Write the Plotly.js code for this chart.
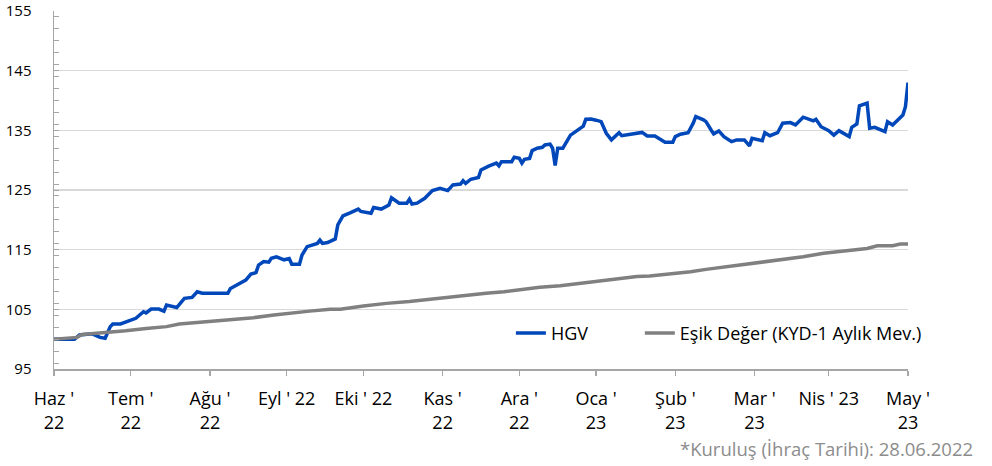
<!DOCTYPE html>
<html>
<head>
<meta charset="utf-8">
<script src="https://cdn.plot.ly/plotly-3.0.1.min.js"></script>
<style>html,body{margin:0;padding:0;background:#fff;}#chart{width:992px;height:466px;}</style>
</head>
<body>
<div id="chart"></div>
<script>
// Days since launch date (28.06.2022) and index values
const startDate = [2022, 5, 28];
const hgvDays = [0,8,10,15,18,20,22,23,26,30,32,35,36,38,41,43,44,48,51,54,56,58,68,69,73,75,77,79,80,82,84,85,87,90,92,93,96,97,99,103,104,105,107,110,111,113,116,119,120,124,125,128,131,132,135,138,139,140,142,145,148,151,154,156,159,160,161,163,166,167,170,173,174,175,179,180,182,183,184,186,187,189,191,192,194,195,196,197,199,200,202,203,205,207,208,210,212,214,216,218,221,222,230,232,235,239,242,243,245,248,250,251,254,255,257,258,260,262,265,267,270,272,273,277,278,280,283,285,288,290,293,297,298,300,303,305,307,311,312,314,315,318,319,321,325,326,328,330,332,333,334];
const hgvValues = [100.0,100.0,100.7,100.9,100.3,100.15,102.1,102.55,102.55,103.2,103.5,104.6,104.4,105.05,105.05,104.7,105.7,105.3,106.85,107.0,107.95,107.7,107.7,108.5,109.5,109.9,110.9,111.15,112.4,113.0,112.9,113.55,113.8,113.3,113.5,112.55,112.55,114.1,115.5,116.05,116.6,116.05,116.2,116.8,119.15,120.65,121.2,121.8,121.4,121.1,122.05,121.8,122.5,123.7,122.8,122.8,123.45,122.65,122.8,123.6,124.9,125.3,124.9,125.85,126.0,126.55,126.1,126.8,127.1,128.35,129.0,129.5,129.05,129.75,129.75,130.5,130.3,129.5,130.15,130.3,131.6,132.0,132.15,132.55,132.7,132.0,129.1,132.0,132.0,132.8,134.2,134.5,135.05,135.7,136.85,136.9,136.7,136.45,134.5,133.4,134.6,134.1,134.65,134.05,134.05,133.0,133.0,133.95,134.35,134.6,136.2,137.3,136.75,136.45,135.05,134.4,134.9,133.95,133.1,133.4,133.4,132.4,133.65,133.25,134.6,134.1,134.6,136.2,136.3,135.9,137.2,136.6,136.85,135.6,134.95,134.2,134.95,133.95,135.5,136.05,139.1,139.55,135.35,135.5,134.8,136.45,135.9,136.7,137.55,138.95,143.0];
const esikDays = [0,9,11,22,28,36,44,49,57,64,70,78,86,92,100,108,112,121,130,139,147,154,161,169,176,182,190,198,206,211,221,228,233,242,249,255,266,275,284,293,301,310,318,322,328,331,334];
const esikValues = [100.0,100.3,100.8,101.15,101.4,101.8,102.1,102.55,102.8,103.1,103.35,103.6,104.05,104.35,104.7,105.0,105.0,105.55,106.0,106.3,106.7,106.95,107.4,107.7,107.95,108.25,108.7,108.95,109.35,109.6,110.05,110.5,110.6,110.95,111.3,111.7,112.3,112.7,113.25,113.8,114.4,114.8,115.2,115.65,115.65,115.95,115.95];
const tickDays = [0,30,61,91,121,152,182,212,243,274,303,334];
const tickLabels = ["Haz '<br>22","Tem '<br>22","Ağu '<br>22","Eyl ' 22","Eki ' 22","Kas '<br>22","Ara '<br>22","Oca '<br>23","Şub '<br>23","Mar '<br>23","Nis ' 23","May '<br>23"];
const seriesNames = ["HGV", "Eşik Değer (KYD-1 Aylık Mev.)"];
const footnote = "*Kuruluş (İhraç Tarihi): 28.06.2022";

function toDate(d) {
  const t = new Date(Date.UTC(startDate[0], startDate[1], startDate[2]));
  t.setUTCDate(t.getUTCDate() + d);
  return t.toISOString().slice(0, 10);
}

const FONT = '"Open Sans", sans-serif';
const legendBase = {
  orientation: 'h', xanchor: 'left', y: 0.10, yanchor: 'middle',
  bgcolor: 'rgba(0,0,0,0)', font: {family: FONT, size: 18, color: '#000'}
};

const traces = [
  {
    x: hgvDays.map(toDate), y: hgvValues, name: seriesNames[0],
    type: 'scatter', mode: 'lines', legend: 'legend',
    line: {color: '#0047BA', width: 3.5}
  },
  {
    x: esikDays.map(toDate), y: esikValues, name: seriesNames[1],
    type: 'scatter', mode: 'lines', legend: 'legend2',
    line: {color: '#808080', width: 3.5}
  }
];

const layout = {
  width: 992, height: 466,
  margin: {l: 54, r: 84, t: 11, b: 97},
  paper_bgcolor: '#fff', plot_bgcolor: '#fff',
  font: {family: FONT, size: 16, color: '#000'},
  showlegend: true,
  legend: Object.assign({x: 0.535}, legendBase),
  legend2: Object.assign({x: 0.686}, legendBase),
  xaxis: {
    type: 'date',
    range: [toDate(tickDays[0]), toDate(tickDays[tickDays.length - 1])],
    tickmode: 'array',
    tickvals: tickDays.map(toDate),
    ticktext: tickLabels,
    tickangle: 0,
    ticks: 'outside', ticklen: 5, tickwidth: 1.5, tickcolor: '#a6a6a6',
    showline: true, linecolor: '#a6a6a6', linewidth: 1.5,
    showgrid: false, zeroline: false,
    ticklabelstandoff: 8,
    tickfont: {family: FONT, size: 18, color: '#000'}
  },
  yaxis: {
    range: [95, 155],
    tickmode: 'linear', tick0: 95, dtick: 10,
    ticks: 'inside', ticklen: 5, tickwidth: 1, tickcolor: '#a6a6a6',
    minor: {ticks: 'inside', ticklen: 5, dtick: 2, tickcolor: '#a6a6a6', tickwidth: 1, showgrid: false},
    showline: true, linecolor: '#a6a6a6', linewidth: 1.5,
    showgrid: true, gridcolor: '#d9d9d9', gridwidth: 1.5,
    zeroline: false,
    ticklabelstandoff: 18,
    tickfont: {family: FONT, size: 15, color: '#000'}
  },
  annotations: [{
    text: footnote, xref: 'paper', yref: 'paper',
    x: 1.078, xanchor: 'right', y: -0.223, yanchor: 'middle',
    showarrow: false, font: {family: FONT, size: 18.5, color: '#8c8c8c'}
  }]
};

Plotly.newPlot('chart', traces, layout, {displayModeBar: false, staticPlot: true});
</script>
</body>
</html>
